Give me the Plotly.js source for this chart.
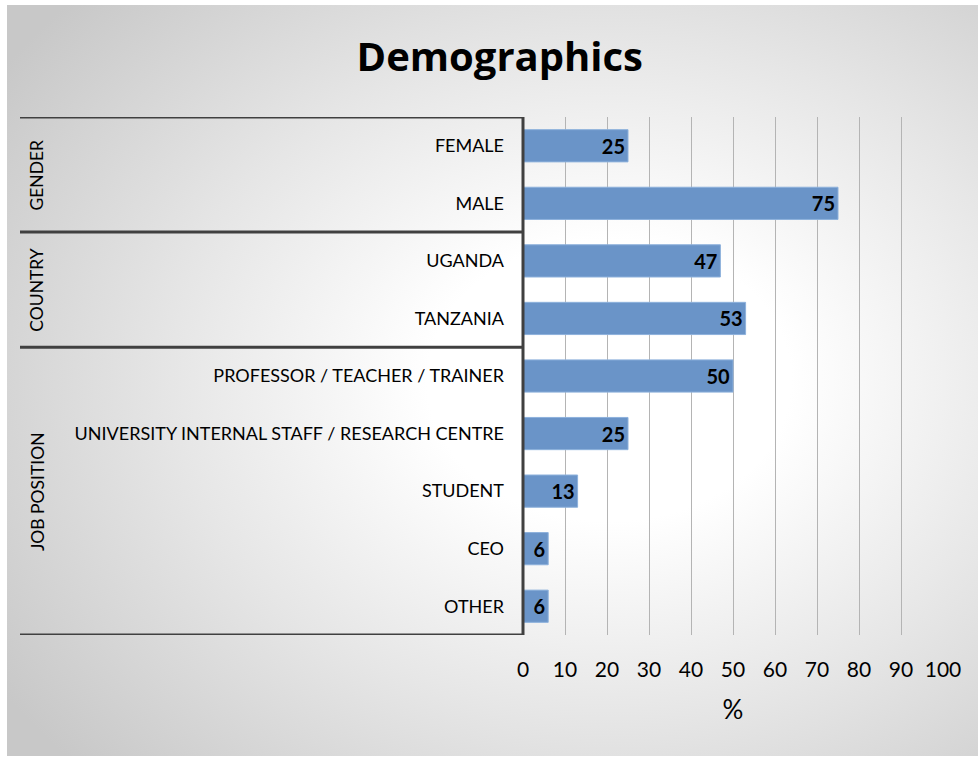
<!DOCTYPE html>
<html><head><meta charset="utf-8">
<script src="https://cdn.plot.ly/plotly-3.0.1.min.js"></script>
<style>
html,body{margin:0;padding:0;background:#fff;}
#frame{position:absolute;left:7px;top:5px;width:971px;height:751px;
background:radial-gradient(ellipse 75% 75% at 62% 50%, #ffffff 0%, #ffffff 25%, #e6e6e6 60%, #c8c8c8 100%);}
#chart{position:absolute;left:0;top:0;width:978px;height:758px;}
</style></head>
<body><div id="frame"></div><div id="chart"></div>
<script>
const categories = ["FEMALE","MALE","UGANDA","TANZANIA","PROFESSOR / TEACHER / TRAINER","UNIVERSITY INTERNAL STAFF / RESEARCH CENTRE","STUDENT","CEO","OTHER"];
const values = [25,75,47,53,50,25,13,6,6];
const groupNames = ["GENDER","COUNTRY","JOB POSITION"];
const groupStart = [0,2,4];
const groupEnd = [1,3,8];
const xTicks = [0,10,20,30,40,50,60,70,80,90,100];

const FONT = "Lato, 'Open Sans', sans-serif";
const W = 978, L = 523, PW = 420;
const px2paper = p => (p - L) / PW;
const lineColor = "#404040";

const shapes = [];
const bounds = [groupStart[0]-0.5].concat(groupEnd.map(e => e+0.5));
bounds.forEach(b => shapes.push({type:"line", xref:"paper", yref:"y", x0:px2paper(20), x1:0, y0:b, y1:b, line:{color:lineColor, width:3}}));
shapes.push({type:"line", xref:"paper", yref:"y", x0:0, x1:0, y0:bounds[0], y1:bounds[bounds.length-1], line:{color:lineColor, width:3}});

const annotations = groupNames.map((g,i) => ({
  text:g, xref:"paper", yref:"y", x:px2paper(37), y:(groupStart[i]+groupEnd[i])/2,
  textangle:-90, showarrow:false, xanchor:"center", yanchor:"middle",
  font:{family:FONT, size:17.5, color:"#000"}
}));

const trace = {
  type:"bar", orientation:"h", y:categories, x:values,
  marker:{color:"#6a94c8", line:{color:"#8db1dc", width:1}},
  width:0.56,
  text:values.map(String), textposition:"inside", insidetextanchor:"end",
  constraintext:"none",
  textfont:{family:FONT, size:20, color:"#000", weight:"bold"},
  hoverinfo:"none"
};

const layout = {
  width:978, height:758,
  paper_bgcolor:"rgba(0,0,0,0)", plot_bgcolor:"rgba(0,0,0,0)",
  margin:{l:L, r:W-L-PW, t:117, b:123},
  showlegend:false,
  title:{text:"<b>Demographics</b>", x:0.511, xanchor:"center", y:0.925, yanchor:"middle",
    font:{family:"'Open Sans', Lato, sans-serif", size:40, color:"#000"}},
  xaxis:{range:[0,100], tickvals:xTicks, ticktext:xTicks.map(String),
    showgrid:true, gridcolor:"#b4b4b4", gridwidth:1, zeroline:false, showline:false,
    ticks:"", ticklabelstandoff:20,
    tickfont:{family:FONT, size:21, color:"#000"},
    title:{text:"%", standoff:20, font:{family:FONT, size:26, color:"#000"}},
    fixedrange:true},
  yaxis:{type:"category", range:[8.5,-0.5], showgrid:false, zeroline:false, showline:false,
    ticks:"", ticklabelstandoff:18,
    tickfont:{family:FONT, size:18, color:"#000"}, fixedrange:true},
  shapes:shapes, annotations:annotations, bargap:0.44
};

Plotly.newPlot("chart", [trace], layout, {displayModeBar:false, staticPlot:true});
</script></body></html>
